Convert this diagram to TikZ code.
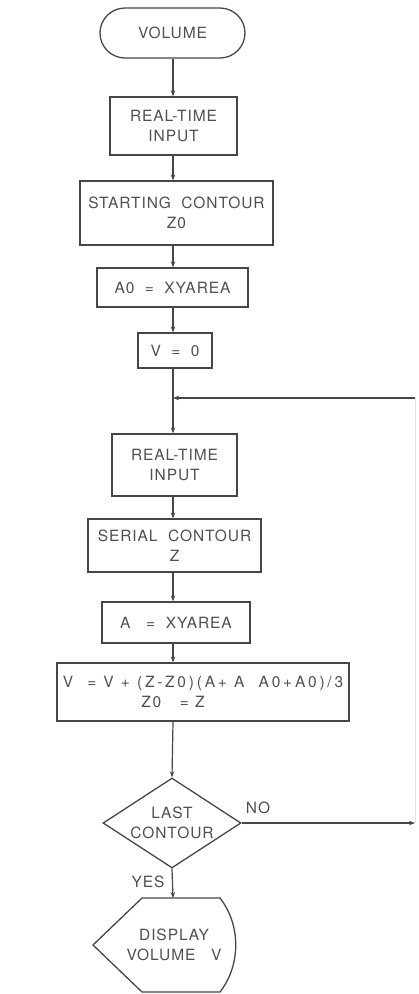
\documentclass[tikz,border=0pt]{standalone}
\usepackage{fontspec}
\setmainfont{TeX Gyre Heros}[LetterSpace=6]
\usetikzlibrary{arrows.meta,shapes.geometric}
\definecolor{ink}{RGB}{70,70,70}
\definecolor{txt}{RGB}{80,80,80}
\tikzset{
  box/.style={draw=ink,line width=1.3pt,rectangle,inner sep=0pt,align=center,text=txt,font=\fontsize{15.5}{20}\selectfont},
  lbl/.style={inner sep=0pt,text=txt,font=\fontsize{15.5}{20}\selectfont},
  arr/.style={draw=ink,line width=1.2pt,-{Stealth[length=6pt,width=4.5pt]}},
  ln/.style={draw=ink,line width=1.2pt},
  faint/.style={draw=black!12,line width=1pt}
}
\begin{document}
\begin{tikzpicture}[x=1pt,y=-1pt]
\useasboundingbox (0,0) rectangle (418,994);
\coordinate (spine) at (173,0);
\node[box,rounded corners=25pt,minimum width=145pt,minimum height=50pt] (vol) at (172.5,33) {VOLUME};
\node[box,minimum width=127pt,minimum height=58pt] (rt1) at (173.5,126) {REAL-TIME\\INPUT};
\node[box,minimum width=193pt,minimum height=64pt] (sc0) at (176.5,213) {STARTING~~CONTOUR\\Z0};
\node[box,minimum width=151pt,minimum height=39pt] (a0) at (172.5,287.5) {A0~~=~~XYAREA};
\node[box,minimum width=74pt,minimum height=35pt] (v0) at (175,350.5) {V~~=~~0};
\node[box,minimum width=125pt,minimum height=62pt] (rt2) at (174.5,465) {REAL-TIME\\INPUT};
\node[box,minimum width=173pt,minimum height=53pt] (sc) at (174.5,545.5) {SERIAL~~CONTOUR\\Z};
\node[box,minimum width=148pt,minimum height=41pt] (a) at (176,622.5) {A~~~=~~XYAREA};
\node[box,minimum width=292pt,minimum height=58pt] (vf) at (203,692) {{\addfontfeature{LetterSpace=18}V~~=~V~+~(Z-Z0)(A+~A~~A0+A0)/3}\\{\addfontfeature{LetterSpace=12}Z0~~~=~Z}\makebox[60pt]{}};
\node[box,diamond,aspect=1.53,minimum width=138pt,minimum height=90pt] (dia) at (172,823) {LAST\\CONTOUR};
\node[lbl,align=center] (disp) at (174,945) {DISPLAY\\VOLUME~~~V};
\draw[draw=ink,line width=1.3pt] (142,898) -- (220,898) .. controls (241,925) and (241,965) .. (220,992) -- (142,992) -- (93,945) -- cycle;
\coordinate (dtop) at (173,898);
\coordinate (rt) at (415,823);
\coordinate (rtop) at (415,398);
\coordinate (j) at (173,398);
\node[lbl] (no) at (258,808) {NO};
\node[lbl] (yes) at (148,882) {YES};
\draw[arr] (vol.south -| spine) -- (rt1.north -| spine);
\draw[arr] (rt1.south -| spine) -- (sc0.north -| spine);
\draw[arr] (sc0.south -| spine) -- (a0.north -| spine);
\draw[arr] (a0.south -| spine) -- (v0.north -| spine);
\draw[ln] (v0.south -| spine) -- (j);
\draw[arr] (j) -- (rt2.north -| spine);
\draw[arr] (rt2.south -| spine) -- (sc.north -| spine);
\draw[arr] (sc.south -| spine) -- (a.north -| spine);
\draw[arr] (a.south -| spine) -- (vf.north -| spine);
\draw[arr] (vf.south -| spine) -- (dia.north);
\draw[arr] (dia.south) -- (dtop);
\draw[arr] (dia.east) -- (rt);
\draw[faint] (rt) -- (rtop);
\draw[arr] (rtop) -- (j);
\end{tikzpicture}
\end{document}
